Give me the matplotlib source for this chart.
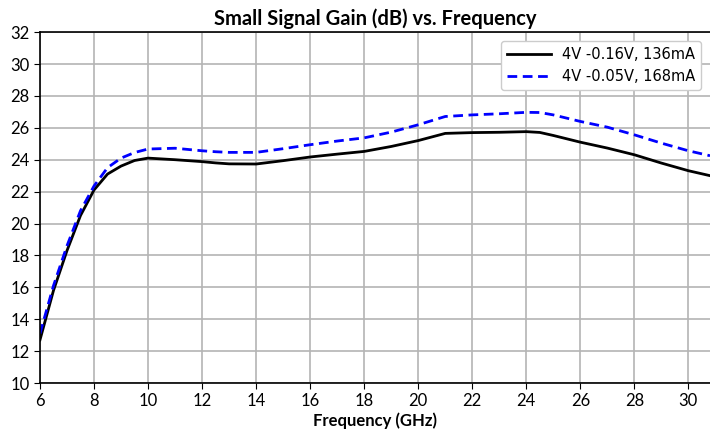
import matplotlib
matplotlib.use("Agg")
import matplotlib.pyplot as plt

# 读图估计的数据
freq = [6, 6.5, 7, 7.5, 8, 8.5, 9, 9.5, 10, 11, 12, 12.5, 13, 14, 15, 16, 17, 18, 19, 20,
        21, 22, 23, 24, 24.5, 25, 26, 27, 28, 29, 30, 30.8]
gain_136 = [12.7, 15.8, 18.3, 20.5, 22.1, 23.1, 23.6, 23.95, 24.1, 24.0, 23.88, 23.8, 23.74, 23.73, 23.94,
            24.17, 24.35, 24.52, 24.83, 25.2, 25.65, 25.7, 25.72, 25.76, 25.71, 25.52, 25.1, 24.73, 24.31,
            23.79, 23.31, 23.0]
gain_168 = [13.1, 16.1, 18.6, 20.8, 22.35, 23.5, 24.1, 24.45, 24.67, 24.72, 24.56, 24.5, 24.46, 24.46, 24.69,
            24.94, 25.17, 25.37, 25.73, 26.19, 26.71, 26.81, 26.88, 26.97, 26.96, 26.81, 26.4, 26.04, 25.56,
            25.04, 24.56, 24.25]
labels = ["4V -0.16V, 136mA", "4V -0.05V, 168mA"]
xticks = list(range(6, 31, 2))
yticks = list(range(10, 33, 2))

font = "Lato"

fig = plt.figure(figsize=(7.1, 4.34), dpi=100)
ax = fig.add_axes([0.0563, 0.1175, 0.9437, 0.8085])

ax.plot(freq, gain_136, color="black", lw=2, label=labels[0])
ax.plot(freq, gain_168, color="blue", lw=2, ls=(0, (3.5, 2)), label=labels[1])

ax.set_xlim(6, 30.8)
ax.set_ylim(10, 32)
ax.set_xticks(xticks)
ax.set_yticks(yticks)
ax.grid(True, color="#b4b4b4", lw=1.2)
ax.set_axisbelow(True)
ax.tick_params(direction="out", length=4, labelsize=12, colors="black")
for lab in ax.get_xticklabels() + ax.get_yticklabels():
    lab.set_fontname(font)
ax.spines["right"].set_visible(False)
for s in ("left", "bottom", "top"):
    ax.spines[s].set_linewidth(1.2)

ax.set_xlabel("Frequency (GHz)", fontname=font, fontweight="bold", fontsize=12, labelpad=2)
ax.set_title("Small Signal Gain (dB) vs. Frequency", fontname=font, fontweight="bold", fontsize=14.5, pad=5)

leg = ax.legend(loc="upper right", fontsize=10.5, handlelength=3, borderaxespad=0.6,
                fancybox=True, framealpha=1)

fig.savefig("out.png", dpi=100, facecolor="white")
